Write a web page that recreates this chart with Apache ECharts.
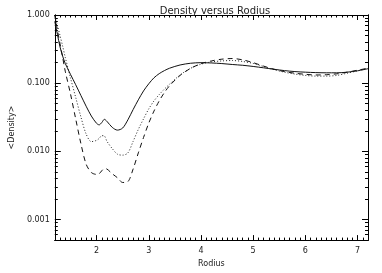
<!DOCTYPE html>
<html>
<head>
<meta charset="utf-8">
<script src="https://cdn.jsdelivr.net/npm/echarts@6/dist/echarts.min.js"></script>
<style>
html,body{margin:0;padding:0;background:#fff;}
#c{width:382px;height:273px;}
</style>
</head>
<body>
<div id="c"></div>
<script>
var radius = [1.2,1.25,1.3,1.35,1.4,1.5,1.6,1.7,1.8,1.9,2.0,2.05,2.1,2.15,2.2,2.3,2.4,2.5,2.6,2.7,2.8,2.9,3.0,3.1,3.2,3.3,3.4,3.6,3.8,4.0,4.2,4.4,4.6,4.8,5.0,5.2,5.4,5.6,5.8,6.0,6.2,6.4,6.6,6.8,7.0,7.2];
var solidDensity = [0.8,0.52,0.34,0.25,0.195,0.135,0.095,0.066,0.046,0.033,0.0258,0.0245,0.0265,0.0295,0.0275,0.0225,0.0205,0.022,0.029,0.041,0.057,0.077,0.098,0.12,0.138,0.153,0.166,0.185,0.196,0.2,0.198,0.194,0.188,0.183,0.176,0.168,0.16,0.153,0.148,0.145,0.143,0.142,0.142,0.145,0.152,0.163];
var dottedDensity = [0.95,0.7,0.5,0.35,0.24,0.12,0.062,0.032,0.018,0.0139,0.0145,0.0155,0.017,0.0168,0.014,0.011,0.0091,0.0088,0.0095,0.014,0.021,0.03,0.042,0.055,0.068,0.082,0.097,0.132,0.165,0.19,0.205,0.212,0.215,0.208,0.195,0.175,0.158,0.145,0.136,0.13,0.127,0.127,0.13,0.14,0.152,0.165];
var dashedDensity = [1.0,0.6,0.38,0.24,0.15,0.07,0.03,0.013,0.0065,0.0049,0.0046,0.0047,0.0052,0.0056,0.0055,0.0047,0.0041,0.0035,0.0036,0.0055,0.0095,0.016,0.026,0.039,0.055,0.073,0.092,0.13,0.165,0.193,0.212,0.225,0.23,0.22,0.2,0.178,0.16,0.148,0.14,0.135,0.132,0.133,0.137,0.145,0.155,0.166];
var xTicks = [2,3,4,5,6,7];
var yTicks = [0.001,0.01,0.1,1];
var titleText = 'Density versus Rodius';
var xName = 'Rodius';
var yName = '<Density>';

var X_MIN = 1.2, X_MAX = 7.2, Y_MIN = 0.0005, Y_MAX = 1;
var xMinor = [];
for (var i = 12; i <= 72; i++) { if (i % 10 !== 0) xMinor.push(i / 10); }
var yMinor = [];
for (var e = -4; e <= 0; e++) {
  for (var m = 2; m <= 9; m++) {
    var v = m * Math.pow(10, e);
    if (v > Y_MIN && v < Y_MAX) yMinor.push(v);
  }
}
function pair(arr) { return radius.map(function (r, k) { return [r, arr[k]]; }); }

var font = 'DejaVu Sans';
var txt = '#222';
function xAx(pos, ticks, len, labels) {
  return {
    type: 'value', min: X_MIN, max: X_MAX, position: pos,
    axisLine: {show: true, onZero: false, lineStyle: {color: '#000', width: 1}},
    axisTick: {show: true, inside: true, length: len, customValues: ticks, lineStyle: {color: '#000'}},
    axisLabel: labels ? {show: true, customValues: xTicks, fontFamily: font, fontSize: 8, color: txt, margin: 7} : {show: false},
    splitLine: {show: false},
    name: labels ? xName : '', nameLocation: 'middle', nameGap: 17,
    nameTextStyle: {fontFamily: font, fontSize: 8, color: txt}
  };
}
function yAx(pos, ticks, len, labels) {
  return {
    type: 'log', logBase: 10, min: Y_MIN, max: Y_MAX, position: pos,
    axisLine: {show: true, onZero: false, lineStyle: {color: '#000', width: 1}},
    axisTick: {show: true, inside: true, length: len, customValues: ticks, lineStyle: {color: '#000'}},
    axisLabel: labels ? {show: true, customValues: yTicks, fontFamily: font, fontSize: 8, color: txt, margin: 5,
      formatter: function (v) { return Number(v).toFixed(3); }} : {show: false},
    splitLine: {show: false}, minorTick: {show: false},
    name: labels ? yName : '', nameLocation: 'middle', nameGap: 35, nameRotate: 90,
    nameTextStyle: {fontFamily: font, fontSize: 8, color: txt}
  };
}

var chart = echarts.init(document.getElementById('c'), null, {renderer: 'canvas'});
chart.setOption({
  animation: false,
  backgroundColor: '#fff',
  title: {text: titleText, left: 210, top: 1, textAlign: 'center',
    textStyle: {fontFamily: font, fontSize: 10, fontWeight: 'normal', color: txt}},
  grid: {left: 47, right: 14, top: 15, bottom: 30, containLabel: false},
  xAxis: [xAx('bottom', xTicks, 5, true), xAx('bottom', xMinor, 2.5, false), xAx('top', xTicks, 5, false), xAx('top', xMinor, 2.5, false)],
  yAxis: [yAx('left', yTicks, 6, true), yAx('left', yMinor, 3, false), yAx('right', yTicks, 6, false), yAx('right', yMinor, 3, false)],
  series: [
    {type: 'line', name: 'solid', data: pair(solidDensity), smooth: 0.3, symbol: 'none', xAxisIndex: 0, yAxisIndex: 0,
      lineStyle: {color: '#111', width: 1, type: 'solid'}},
    {type: 'line', name: 'dotted', data: pair(dottedDensity), smooth: 0.3, symbol: 'none', xAxisIndex: 0, yAxisIndex: 0,
      lineStyle: {color: '#222', width: 1, type: [1, 2]}},
    {type: 'line', name: 'dashed', data: pair(dashedDensity), smooth: 0.3, symbol: 'none', xAxisIndex: 0, yAxisIndex: 0,
      lineStyle: {color: '#111', width: 1, type: [5, 4]}}
  ]
});
</script>
</body>
</html>
